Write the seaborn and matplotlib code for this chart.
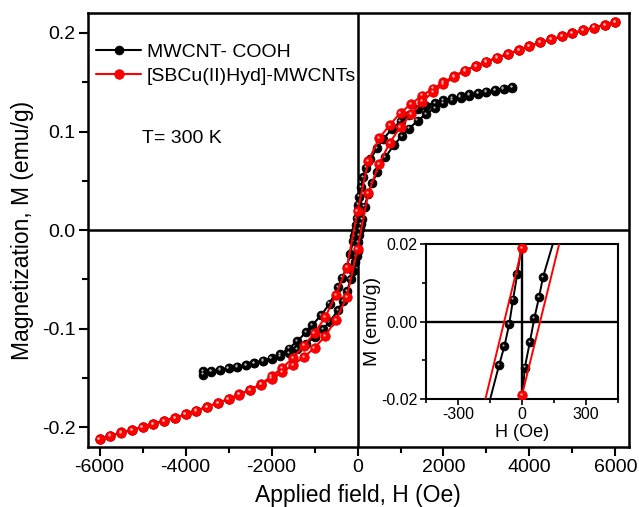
import numpy as np
import pandas as pd
import matplotlib
matplotlib.use("Agg")
import matplotlib.pyplot as plt
import matplotlib.transforms as mtransforms
import seaborn as sns
from matplotlib.ticker import MultipleLocator, FormatStrFormatter

# ---------------- data ----------------
# MWCNT-COOH : descending branch (+3600 -> -3600 Oe)
blk_desc_H = [3600, 3400, 3200, 3000, 2800, 2600, 2400, 2200, 2000, 1800, 1600, 1400,
              1200, 1000, 800, 600, 450, 300, 200, 130, 80, 40, 15, 0, -22, -42, -60,
              -82, -107, -170, -250, -350, -450, -650, -850, -1050, -1200, -1400,
              -1600, -1800, -2000, -2200, -2400, -2600, -2800, -3000, -3200, -3400, -3600]
blk_desc_M = [0.1452, 0.1435, 0.1420, 0.1405, 0.1392, 0.1377, 0.1360, 0.1340, 0.1318,
              0.1292, 0.1262, 0.1225, 0.1172, 0.1105, 0.1025, 0.0925, 0.0830, 0.0720,
              0.0635, 0.0540, 0.0440, 0.0340, 0.0260, 0.0205, 0.0123, 0.0057, -0.0007,
              -0.0063, -0.0112, -0.0245, -0.0370, -0.0480, -0.0580, -0.0745, -0.0865,
              -0.0960, -0.1035, -0.1125, -0.1200, -0.1260, -0.1300, -0.1325, -0.1348,
              -0.1368, -0.1386, -0.1402, -0.1417, -0.1433, -0.1465]
# MWCNT-COOH : ascending branch (-3600 -> +3600 Oe)
blk_asc_H = [-3600, -3400, -3200, -3000, -2800, -2600, -2400, -2200, -2000, -1800, -1600,
             -1400, -1200, -1000, -800, -650, -450, -340, -240, -160, -100, -50, -20, 0,
             13, 37, 58, 80, 98, 165, 250, 340, 456, 650, 840, 1035, 1200, 1400, 1600,
             1800, 2000, 2200, 2400, 2600, 2800, 3000, 3200, 3400, 3600]
blk_asc_M = [-0.1425, -0.1428, -0.1414, -0.1398, -0.1384, -0.1364, -0.1344, -0.1323,
             -0.1303, -0.1276, -0.1245, -0.1208, -0.1152, -0.1085, -0.1000, -0.0928,
             -0.0810, -0.0715, -0.0615, -0.0500, -0.0410, -0.0320, -0.0265, -0.0210,
             -0.0119, -0.0052, 0.0010, 0.0064, 0.0115, 0.0240, 0.0370, 0.0475, 0.0590,
             0.0740, 0.0860, 0.0955, 0.1030, 0.1110, 0.1180, 0.1240, 0.1285, 0.1320,
             0.1345, 0.1365, 0.1385, 0.1400, 0.1416, 0.1432, 0.1445]

# [SBCu(II)Hyd]-MWCNTs : descending branch (+6000 -> -6000 Oe, 250 Oe steps)
red_desc_H = [6000, 5750, 5500, 5250, 5000, 4750, 4500, 4250, 4000, 3750, 3500, 3250,
              3000, 2750, 2500, 2250, 2000, 1750, 1500, 1250, 1000, 750, 500, 250, 0,
              -250, -500, -750, -1000, -1250, -1500, -1750, -2000, -2250, -2500, -2750,
              -3000, -3250, -3500, -3750, -4000, -4250, -4500, -4750, -5000, -5250,
              -5500, -5750, -6000]
red_desc_M = [0.2108, 0.2081, 0.2054, 0.2027, 0.1997, 0.1965, 0.1935, 0.1904, 0.1865,
              0.1828, 0.1789, 0.1750, 0.1710, 0.1666, 0.1618, 0.1565, 0.1498, 0.1435,
              0.1364, 0.1280, 0.1191, 0.1066, 0.0931, 0.0700, 0.0190, -0.0380, -0.0655,
              -0.0880, -0.1045, -0.1170, -0.1295, -0.1395, -0.1480, -0.1560, -0.1618,
              -0.1665, -0.1712, -0.1753, -0.1790, -0.1831, -0.1868, -0.1902, -0.1932,
              -0.1963, -0.1993, -0.2024, -0.2051, -0.2085, -0.2115]
# [SBCu(II)Hyd]-MWCNTs : ascending branch (-6000 -> +6000 Oe)
red_asc_H = [-6000, -5750, -5500, -5250, -5000, -4750, -4500, -4250, -4000, -3750, -3500,
             -3250, -3000, -2750, -2500, -2250, -2000, -1750, -1500, -1250, -1000, -750,
             -500, -250, 0, 250, 500, 750, 1000, 1250, 1500, 1750, 2000, 2250, 2500, 2750,
             3000, 3250, 3500, 3750, 4000, 4250, 4500, 4750, 5000, 5250, 5500, 5750, 6000]
red_asc_M = [-0.2115, -0.2083, -0.2055, -0.2028, -0.1998, -0.1966, -0.1936, -0.1905,
             -0.1866, -0.1829, -0.1790, -0.1751, -0.1711, -0.1667, -0.1620, -0.1566,
             -0.1505, -0.1440, -0.1368, -0.1285, -0.1195, -0.1070, -0.0910, -0.0677,
             -0.0190, 0.0372, 0.0670, 0.0886, 0.1049, 0.1174, 0.1303, 0.1398, 0.1478,
             0.1555, 0.1616, 0.1664, 0.1708, 0.1748, 0.1787, 0.1826, 0.1863, 0.1903,
             0.1934, 0.1964, 0.1996, 0.2026, 0.2053, 0.2080, 0.2106]

series_names = ["MWCNT- COOH", "[SBCu(II)Hyd]-MWCNTs"]
series_colors = ["black", "#ff0000"]
highlight_colors = ["#b0b0b0", "#ffb0b0"]

main_xticks = [-6000, -4000, -2000, 0, 2000, 4000, 6000]
main_yticks = [-0.2, -0.1, 0.0, 0.1, 0.2]
inset_xticks = [-300, 0, 300]
inset_yticks = [-0.02, 0.0, 0.02]

df_black = pd.DataFrame({"H": blk_desc_H + blk_asc_H, "M": blk_desc_M + blk_asc_M})
df_red = pd.DataFrame({"H": red_desc_H + red_asc_H, "M": red_desc_M + red_asc_M})

# ---------------- style ----------------
sns.set_style("ticks")
plt.rcParams["font.family"] = ["Liberation Sans", "DejaVu Sans"]
plt.rcParams["axes.unicode_minus"] = False
plt.rcParams["text.color"] = "black"
plt.rcParams["axes.labelcolor"] = "black"
plt.rcParams["xtick.color"] = "black"
plt.rcParams["ytick.color"] = "black"

fig = plt.figure(figsize=(6.39, 5.07), dpi=100)
ax = fig.add_axes([0.137, 0.118, 0.847, 0.856])


def draw(axis, ms_b, ms_r, lw, legend):
    axis.axhline(0, color="black", lw=lw + 0.3, zorder=1)
    axis.axvline(0, color="black", lw=lw + 0.3, zorder=1)
    hl = mtransforms.offset_copy(axis.transData, fig=fig, x=-1.2, y=1.2, units="dots")
    sns.lineplot(data=df_black, x="H", y="M", sort=False, estimator=None, ax=axis,
                 color=series_colors[0], lw=lw, marker="o", markersize=ms_b,
                 markeredgecolor="black", markeredgewidth=0.6,
                 label=series_names[0] if legend else None, zorder=3)
    sns.scatterplot(data=df_black, x="H", y="M", ax=axis, color=highlight_colors[0],
                    s=2.5, linewidth=0, transform=hl, zorder=3.5, legend=False)
    sns.lineplot(data=df_red, x="H", y="M", sort=False, estimator=None, ax=axis,
                 color=series_colors[1], lw=lw, marker="o", markersize=ms_r,
                 markeredgecolor="#e00000", markeredgewidth=0.6,
                 label=series_names[1] if legend else None, zorder=4)
    sns.scatterplot(data=df_red, x="H", y="M", ax=axis, color=highlight_colors[1],
                    s=3, linewidth=0, transform=hl, zorder=4.5, legend=False)


draw(ax, 6.3, 6.8, 1.5, True)

ax.set_xlim(-6280, 6310)
ax.set_ylim(-0.22, 0.22)
ax.set_xticks(main_xticks)
ax.set_yticks(main_yticks)
ax.yaxis.set_major_formatter(FormatStrFormatter("%.1f"))
ax.xaxis.set_minor_locator(MultipleLocator(1000))
ax.yaxis.set_minor_locator(MultipleLocator(0.05))
ax.tick_params(which="both", direction="out", top=False, right=False, width=1.5,
               labelsize=14, color="black", labelcolor="black", pad=2)
ax.tick_params(which="major", length=6.5)
ax.tick_params(which="minor", length=4.5)
for s in ax.spines.values():
    s.set_linewidth(1.8)
    s.set_color("black")
ax.set_xlabel("Applied field, H (Oe)", fontsize=16.5, labelpad=6)
ax.set_ylabel("Magnetization, M (emu/g)", fontsize=16.5, labelpad=6)

leg = ax.legend(loc="upper left", bbox_to_anchor=(0.016, 0.93), frameon=False,
                borderaxespad=0, borderpad=0, fontsize=14, handlelength=2.3,
                handletextpad=0.3, labelspacing=0.3)
ax.text(0.101, 0.712, "T= 300 K", transform=ax.transAxes, fontsize=14,
        ha="left", va="center")

# ---------------- inset ----------------
ax2 = fig.add_axes([0.6662, 0.213, 0.3014, 0.3051])
ax2.set_facecolor("white")
draw(ax2, 6.3, 6.8, 1.4, False)
ax2.set_xlim(-450, 450)
ax2.set_ylim(-0.02, 0.02)
ax2.set_xticks(inset_xticks)
ax2.set_yticks(inset_yticks)
ax2.yaxis.set_major_formatter(FormatStrFormatter("%.2f"))
ax2.xaxis.set_minor_locator(MultipleLocator(150))
ax2.yaxis.set_minor_locator(MultipleLocator(0.01))
ax2.tick_params(which="both", direction="out", top=False, right=False, width=1.2,
                labelsize=11.5, color="black", labelcolor="black", pad=2)
ax2.tick_params(which="major", length=4)
ax2.tick_params(which="minor", length=3)
for s in ax2.spines.values():
    s.set_linewidth(1.5)
    s.set_color("black")
ax2.set_xlabel("H (Oe)", fontsize=13, labelpad=1)
ax2.set_ylabel("M (emu/g)", fontsize=14, labelpad=0)

fig.savefig("out.png", dpi=100)
